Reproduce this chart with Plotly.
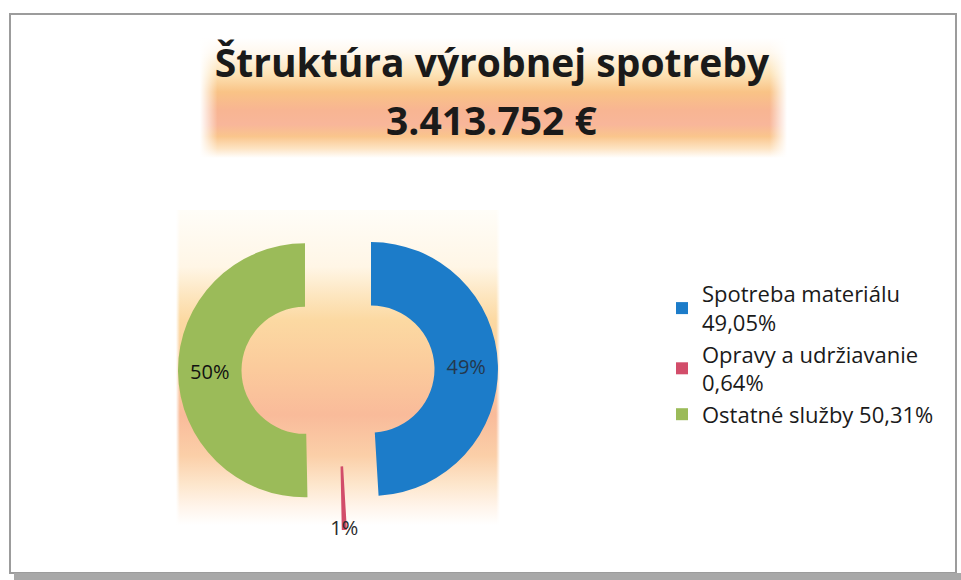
import base64
import plotly.graph_objects as go

# ---- data ----
categories = ["Spotreba materiálu", "Opravy a udržiavanie", "Ostatné služby"]
shares = [49.05, 0.64, 50.31]
legend_breaks = ["<br>", "<br>", " "]
title_line1 = "Štruktúra výrobnej spotreby"
title_line2 = "3.413.752 €"

colors = ["#1c7cc9", "#d24d6a", "#9bbb59"]
text_colors = ["#24384d", "#2a2a2a", "#111111"]

legend_labels = [
    f"{c}{b}{v:.2f}".replace(".", ",") + "%"
    for c, b, v in zip(categories, legend_breaks, shares)
]

W, H = 961, 580
FONT = "'Open Sans', 'Noto Sans', sans-serif"


def px(x):
    return x / W


def py(y):
    return 1 - y / H


def svg_uri(stops, w=600, h=120, edge=0.03):
    st = "".join(
        f'<stop offset="{o}" stop-color="{c}"/>' for o, c in stops
    )
    svg = (
        f'<svg xmlns="http://www.w3.org/2000/svg" width="{w}" height="{h}" '
        f'viewBox="0 0 {w} {h}" preserveAspectRatio="none"><defs>'
        f'<linearGradient id="v" x1="0" y1="0" x2="0" y2="1">{st}</linearGradient>'
        f'<linearGradient id="h" x1="0" y1="0" x2="1" y2="0">'
        f'<stop offset="0" stop-color="#fff" stop-opacity="1"/>'
        f'<stop offset="{edge}" stop-color="#fff" stop-opacity="0"/>'
        f'<stop offset="{1-edge}" stop-color="#fff" stop-opacity="0"/>'
        f'<stop offset="1" stop-color="#fff" stop-opacity="1"/>'
        f'</linearGradient></defs>'
        f'<rect width="{w}" height="{h}" fill="url(#v)"/>'
        f'<rect width="{w}" height="{h}" fill="url(#h)"/></svg>'
    )
    return "data:image/svg+xml;base64," + base64.b64encode(svg.encode()).decode()


title_bg = svg_uri([
    (0, "#ffffff"), (0.12, "#fff8ee"), (0.3, "#fde3b6"), (0.45, "#f9c386"),
    (0.6, "#f8b592"), (0.72, "#f8b69a"), (0.82, "#fac58c"), (0.92, "#fde3c2"),
    (1, "#ffffff"),
])
plot_bg = svg_uri([
    (0, "#fffdf8"), (0.18, "#fff6e6"), (0.27, "#fde6c0"), (0.35, "#fcd9a2"),
    (0.5, "#fbcb9c"), (0.65, "#f9bb9a"), (0.78, "#fbcfa8"), (0.87, "#fde6cc"),
    (0.94, "#fff4ea"), (1, "#ffffff"),
], w=320, h=315, edge=0.012)

fig = go.Figure()
fig.add_trace(go.Pie(
    labels=legend_labels,
    values=shares,
    sort=False,
    direction="clockwise",
    rotation=0,
    hole=0.5,
    pull=[0.26, 0.26, 0.26],
    marker=dict(colors=colors, line=dict(width=0)),
    texttemplate="%{percent:.0%}",
    textposition="inside",
    insidetextorientation="horizontal",
    textfont=dict(family=FONT, size=20, color=text_colors),
    domain=dict(x=[px(178), px(498)], y=[py(530), py(210)]),
    hoverinfo="label+value",
))

fig.update_layout(
    width=W, height=H,
    margin=dict(l=0, r=0, t=0, b=0, autoexpand=False),
    paper_bgcolor="#ffffff",
    plot_bgcolor="#ffffff",
    uniformtext=dict(minsize=20, mode="show"),
    title=dict(
        text=f"<b>{title_line1}</b>",
        font=dict(family=FONT, size=39, color="#1a1a1a"),
        x=px(492), xanchor="center",
        y=py(63), yanchor="middle",
        automargin=False,
    ),
    annotations=[
        dict(text=f"<b>{title_line2}</b>", xref="paper", yref="paper",
             x=px(491), y=py(119), xanchor="center", yanchor="middle",
             showarrow=False,
             font=dict(family=FONT, size=39, color="#1a1a1a")),
    ],
    legend=dict(
        x=px(662), xanchor="left",
        y=py(354), yanchor="middle",
        font=dict(family=FONT, size=22, color="#1a1a1a"),
        bgcolor="rgba(0,0,0,0)",
        itemwidth=30,
    ),
    images=[
        dict(source=title_bg, xref="paper", yref="paper",
             x=px(200), y=py(38), sizex=px(787) - px(200), sizey=py(38) - py(158),
             xanchor="left", yanchor="top", sizing="stretch", layer="below"),
        dict(source=plot_bg, xref="paper", yref="paper",
             x=px(176), y=py(210), sizex=px(500) - px(176), sizey=py(210) - py(525),
             xanchor="left", yanchor="top", sizing="stretch", layer="below"),
    ],
    shapes=[
        dict(type="rect", xref="paper", yref="paper",
             x0=px(10), x1=px(956), y0=py(573), y1=py(14),
             line=dict(color="#9c9c9c", width=2), fillcolor="rgba(0,0,0,0)",
             layer="below"),
        dict(type="rect", xref="paper", yref="paper",
             x0=px(14), x1=px(961), y0=py(580), y1=py(573),
             line=dict(width=0), fillcolor="#a8a8a8", layer="above"),
    ],
)

fig.write_html(
    "out.html",
    config={"displayModeBar": False},
    post_script="document.body.style.margin='0';document.body.style.overflow='hidden';",
)
